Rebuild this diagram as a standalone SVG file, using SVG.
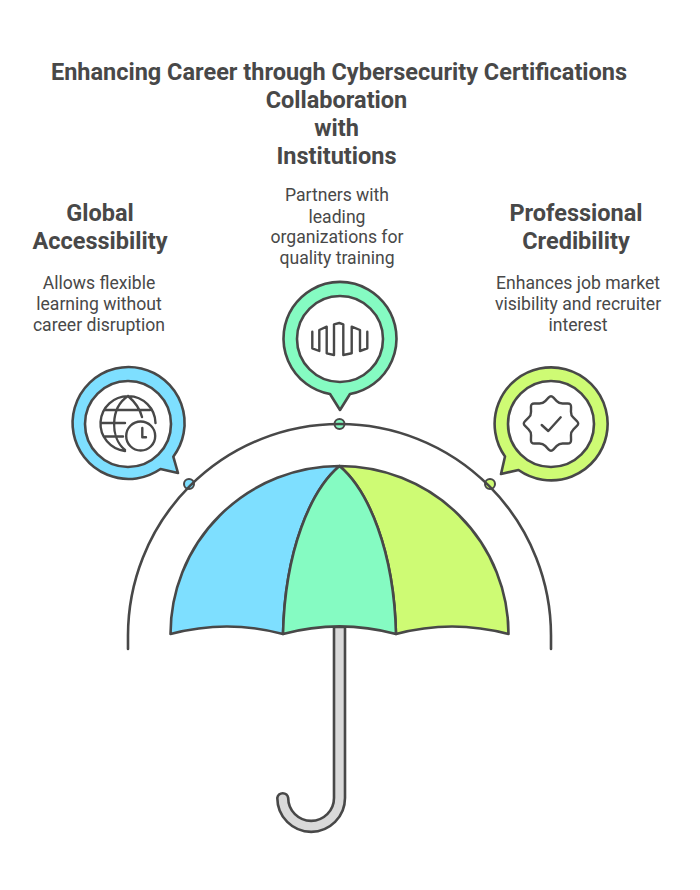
<svg xmlns="http://www.w3.org/2000/svg" width="700" height="890" viewBox="0 0 700 890">
<style>
text{font-family:Roboto,"Liberation Sans",sans-serif;fill:#484848;text-anchor:middle}
.h{font-size:23.5px;font-weight:700}
.b{font-size:17.6px;font-weight:400}
.s{stroke:#484848;stroke-width:2.6;stroke-linejoin:round;stroke-linecap:round}
.d{stroke:#484848;stroke-width:2}
.i{fill:none;stroke:#484848;stroke-width:2.4;stroke-linejoin:round;stroke-linecap:round}
.w{fill:#fff}
.blue{fill:#7edfff}.green{fill:#85fbc2}.lime{fill:#cefb74}
</style>
<rect width="700" height="890" fill="#fff"/>
<g id="title">
<text class="h" x="339" y="80">Enhancing Career through Cybersecurity Certifications</text>
</g>
<g id="umbrella">
<path class="s" fill="#d9d9d9" d="M334 627V798A22.900 22.900 0 0 1 288.200 798A5.500 5.500 0 0 0 277.300 798A33.850 33.850 0 0 0 345 798V627Z"/>
<path class="s blue" d="M339.500 466A169 168 0 0 0 170.500 634C208 624 246 624 283 634C285 550 311 490 339.500 466Z"/>
<path class="s lime" d="M339.500 466A169 168 0 0 1 508.500 634C471 624 433 624 396 634C394 550 368 490 339.500 466Z"/>
<path class="s green" d="M339.500 466C311 490 285 550 283 634C320 624 359 624 396 634C394 550 368 490 339.500 466Z"/>
</g>
<g id="node-global">
<path class="s blue" d="M173.300 456.700L178 473L160.500 469A56 56 0 1 1 173.300 456.700Z"/>
<circle class="s w" cx="128" cy="424" r="43"/>
<path class="i" d="M125 451A27.500 27.500 0 1 1 155.500 423M128 396C110 408 110 438 125 450M128 396C135 402 140 409 142 417M101 423H125M105 410H150M105 436.500H123"/>
<circle class="i" cx="140.700" cy="436" r="14.500"/>
<path class="i" d="M142.300 428V437.300H146"/>
<text class="h" x="100" y="221">Global</text>
<text class="h" x="100" y="249">Accessibility</text>
<text class="b" x="99" y="289">Allows flexible</text>
<text class="b" x="99" y="310">learning without</text>
<text class="b" x="99" y="331">career disruption</text>
<circle class="d blue" cx="189" cy="484" r="5"/>
</g>
<g id="node-collaboration">
<path class="s green" d="M330 394L340 410L350 394A56.500 56.500 0 1 0 330 394Z"/>
<circle class="s w" cx="340" cy="339" r="43"/>
<path class="i" d="M312.300 331.700V348.300L319.300 351V330L326.700 326.700V353.300L334 355V324.300L339.300 323L343.300 324.300V355L351.700 353.300V326.700L360 330V351L367.300 348.300V331.700"/>
<text class="h" x="336.500" y="108">Collaboration</text>
<text class="h" x="336.500" y="136">with</text>
<text class="h" x="336.500" y="164">Institutions</text>
<text class="b" x="337" y="201">Partners with</text>
<text class="b" x="337" y="223">leading</text>
<text class="b" x="337" y="243">organizations for</text>
<text class="b" x="337" y="264">quality training</text>
<circle class="d green" cx="339.500" cy="424" r="5"/>
</g>
<g id="node-credibility">
<path class="s lime" d="M505 456.500L501 474L518.500 470A56.500 56.500 0 1 0 505 456.500Z"/>
<circle class="s w" cx="551" cy="424" r="43"/>
<path class="i" transform="translate(551 423.500)" d="M2.470 -25.910L5.760 -22.450Q8.230 -19.860 11.810 -19.950L16.570 -20.060Q20.150 -20.150 20.060 -16.570L19.950 -11.810Q19.860 -8.230 22.450 -5.760L25.910 -2.470Q28.500 0 25.910 2.470L22.450 5.760Q19.860 8.230 19.950 11.810L20.060 16.570Q20.150 20.150 16.570 20.060L11.810 19.950Q8.230 19.860 5.760 22.450L2.470 25.910Q0 28.500 -2.470 25.910L-5.760 22.450Q-8.230 19.860 -11.810 19.950L-16.570 20.060Q-20.150 20.150 -20.060 16.570L-19.950 11.810Q-19.860 8.230 -22.450 5.760L-25.910 2.470Q-28.500 0 -25.910 -2.470L-22.450 -5.760Q-19.860 -8.230 -19.950 -11.810L-20.060 -16.570Q-20.150 -20.150 -16.570 -20.060L-11.810 -19.950Q-8.230 -19.860 -5.760 -22.450L-2.470 -25.910Q0 -28.500 2.470 -25.910Z"/>
<path class="i" d="M541.700 425L548.300 431L560.700 417.300"/>
<text class="h" x="576" y="221">Professional</text>
<text class="h" x="576" y="249">Credibility</text>
<text class="b" x="578" y="289">Enhances job market</text>
<text class="b" x="578" y="310">visibility and recruiter</text>
<text class="b" x="578" y="331">interest</text>
<circle class="d lime" cx="490" cy="484" r="5"/>
</g>
<g id="connectors">
<path class="s" fill="none" d="M128 649V635.500A211.500 211.500 0 0 1 551 635.500V649"/>
</g>
</svg>
